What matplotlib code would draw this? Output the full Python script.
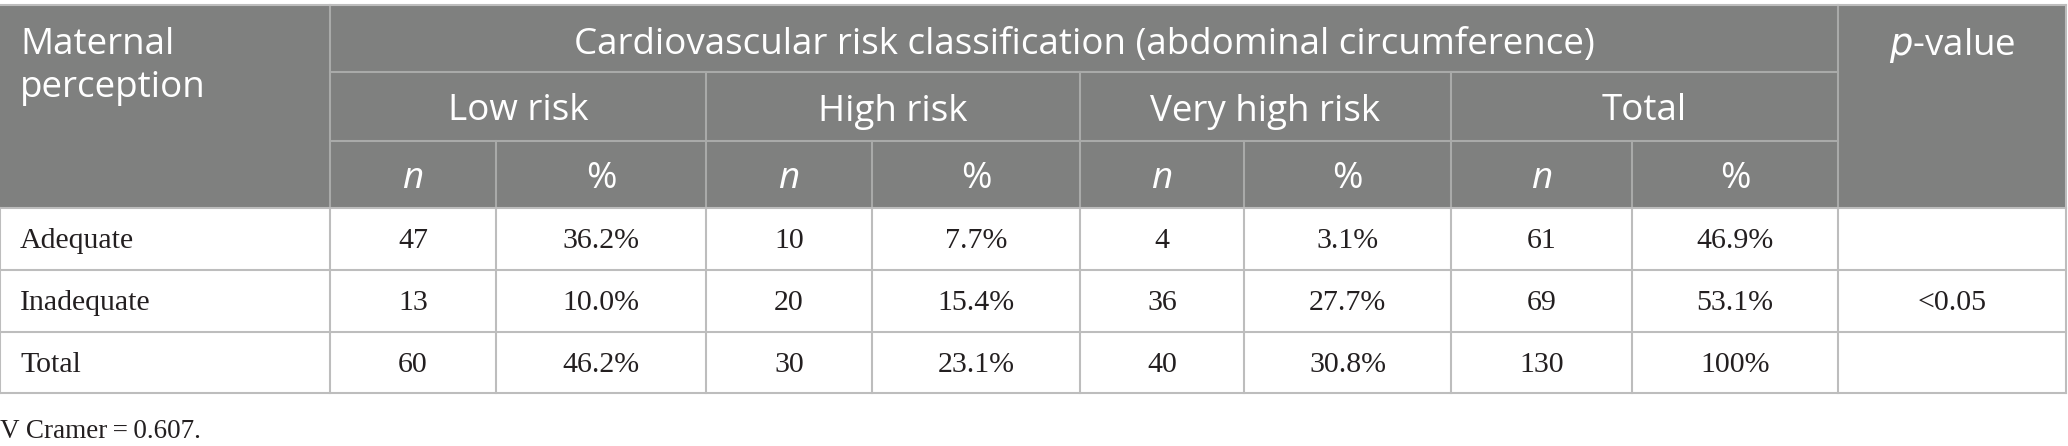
import matplotlib.pyplot as plt
from matplotlib.patches import Rectangle

# Данные таблицы
row_labels = ['Adequate', 'Inadequate', 'Total']
groups = ['Low risk', 'High risk', 'Very high risk', 'Total']
n_values = [[47, 10, 4, 61],
            [13, 20, 36, 69],
            [60, 30, 40, 130]]
pct_values = [['36.2%', '7.7%', '3.1%', '46.9%'],
              ['10.0%', '15.4%', '27.7%', '53.1%'],
              ['46.2%', '23.1%', '30.8%', '100%']]
p_values = ['', '<0.05', '']
title = 'Cardiovascular risk classification (abdominal circumference)'
first_col = ['Maternal', 'perception']
footnote = 'V Cramer\u2009=\u20090.607.'

# Геометрия (в пикселях)
W, H = 2068, 446
col_x = [0, 330, 496, 706, 872, 1080, 1244, 1451, 1632, 1838, 2066]
row_y = [5, 72, 141, 208, 270, 332, 393]

header_bg = '#7f807f'
header_line = '#a9aaa9'
body_line = '#bdbdbd'
sans = ['Open Sans', 'DejaVu Sans']
serif = ['Liberation Serif', 'DejaVu Serif']
hfs = 26.5
bfs = 21.5
txt = '#231f20'

fig = plt.figure(figsize=(W / 100, H / 100), dpi=100)
ax = fig.add_axes([0, 0, 1, 1])
ax.set_xlim(0, W)
ax.set_ylim(H, 0)
ax.axis('off')

# Фон шапки
ax.add_patch(Rectangle((col_x[0], row_y[0]), col_x[-1] - col_x[0], row_y[3] - row_y[0],
                       facecolor=header_bg, edgecolor='none', zorder=1))

# Линии шапки
ax.plot([col_x[1], col_x[9]], [row_y[1], row_y[1]], color=header_line, lw=1.5, zorder=2)
ax.plot([col_x[1], col_x[9]], [row_y[2], row_y[2]], color=header_line, lw=1.5, zorder=2)
for i in [1, 9]:
    ax.plot([col_x[i], col_x[i]], [row_y[0], row_y[3]], color=header_line, lw=1.5, zorder=2)
for i in [3, 5, 7]:
    ax.plot([col_x[i], col_x[i]], [row_y[1], row_y[3]], color=header_line, lw=1.5, zorder=2)
for i in [2, 4, 6, 8]:
    ax.plot([col_x[i], col_x[i]], [row_y[2], row_y[3]], color=header_line, lw=1.5, zorder=2)

# Линии тела таблицы
for y in row_y[3:]:
    ax.plot([col_x[0], col_x[-1]], [y, y], color=body_line, lw=1.5, zorder=2)
for x in col_x:
    ax.plot([x, x], [row_y[3], row_y[-1]], color=body_line, lw=1.5, zorder=2)
ax.plot([col_x[0], col_x[-1]], [row_y[0], row_y[0]], color=body_line, lw=1.5, zorder=2)
ax.plot([col_x[-1], col_x[-1]], [row_y[0], row_y[3]], color=body_line, lw=1.5, zorder=2)

# Текст шапки
top_y = (row_y[0] + row_y[1]) / 2 + 7
ax.text(20, top_y, first_col[0], ha='left', va='center', color='white',
        fontsize=hfs, family=sans, zorder=3)
ax.text(20, top_y + 42, first_col[1], ha='left', va='center', color='white',
        fontsize=hfs, family=sans, zorder=3)
ax.text((col_x[1] + col_x[9]) / 2, top_y, title, ha='center',
        va='center', color='white', fontsize=hfs, family=sans, zorder=3)
ax.text((col_x[9] + col_x[10]) / 2, top_y, r'$\it{p}$-value',
        ha='center', va='center', color='white', fontsize=hfs, family=sans, zorder=3)
for g, name in enumerate(groups):
    cx = (col_x[1 + 2 * g] + col_x[3 + 2 * g]) / 2
    ax.text(cx, (row_y[1] + row_y[2]) / 2 + 5, name, ha='center', va='center',
            color='white', fontsize=hfs, family=sans, zorder=3)
    ax.text((col_x[1 + 2 * g] + col_x[2 + 2 * g]) / 2, (row_y[2] + row_y[3]) / 2 + 4, 'n',
            ha='center', va='center', color='white', fontsize=hfs, family=sans,
            style='italic', zorder=3)
    ax.text((col_x[2 + 2 * g] + col_x[3 + 2 * g]) / 2, (row_y[2] + row_y[3]) / 2 + 4, '%',
            ha='center', va='center', color='white', fontsize=hfs, family=sans, zorder=3)

# Текст тела
for r, label in enumerate(row_labels):
    cy = (row_y[3 + r] + row_y[4 + r]) / 2 + 2
    ax.text(20, cy, label, ha='left', va='center', color=txt, fontsize=bfs,
            family=serif, zorder=3)
    for g in range(len(groups)):
        ax.text((col_x[1 + 2 * g] + col_x[2 + 2 * g]) / 2, cy, str(n_values[r][g]),
                ha='center', va='center', color=txt, fontsize=bfs, family=serif, zorder=3)
        ax.text((col_x[2 + 2 * g] + col_x[3 + 2 * g]) / 2, cy, pct_values[r][g],
                ha='center', va='center', color=txt, fontsize=bfs, family=serif, zorder=3)
    ax.text((col_x[9] + col_x[10]) / 2, cy, p_values[r], ha='center', va='center',
            color=txt, fontsize=bfs, family=serif, zorder=3)

# Примечание
ax.text(0, 431, footnote, ha='left', va='center', color=txt, fontsize=19.5,
        family=serif, zorder=3)

fig.savefig('out.png', dpi=100)
